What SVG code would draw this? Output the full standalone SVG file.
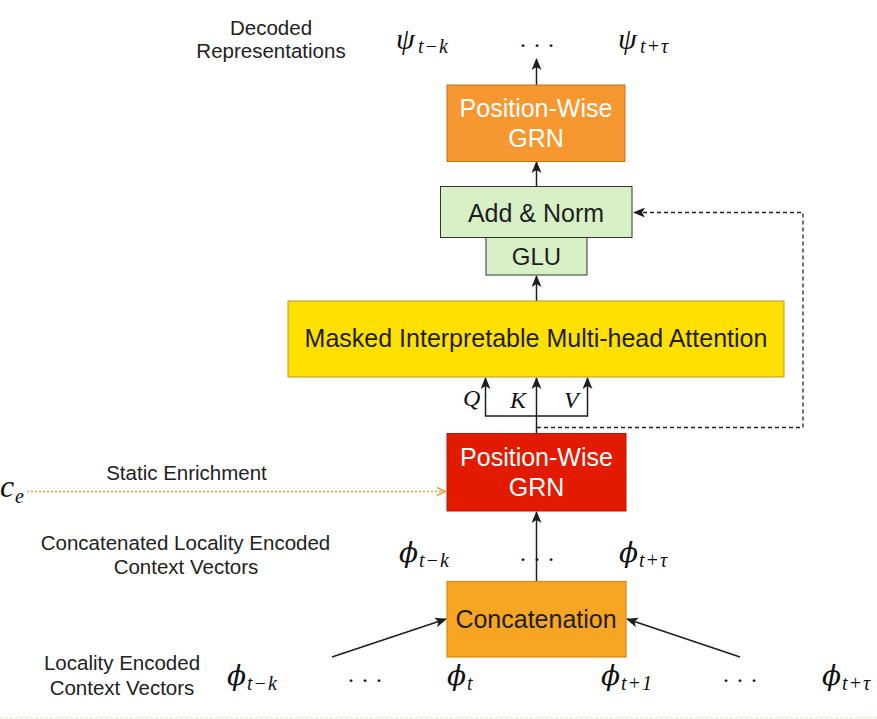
<svg xmlns="http://www.w3.org/2000/svg" width="877" height="719" viewBox="0 0 877 719">
<defs>
<style>
.lbl{font-family:"Liberation Sans",Arial,sans-serif;font-size:20.5px;fill:#222;text-anchor:middle}
.box{font-family:"Liberation Sans",Arial,sans-serif;font-size:25px;text-anchor:middle}
.wt{fill:#ffffff}
.dk{fill:#1e1e1e}
.m{font-family:"Liberation Serif","DejaVu Serif",serif;font-style:italic;fill:#111;font-size:30px}
.p{font-family:"DejaVu Serif","Liberation Serif",serif;font-style:italic;fill:#111;font-size:28px}
.s{font-family:"Liberation Serif","DejaVu Serif",serif;font-style:italic;fill:#111;font-size:20px}
.dots{font-family:"Liberation Serif","DejaVu Serif",serif;fill:#111;font-size:24px;text-anchor:middle}
.ar{fill:none;stroke:#1e1e1e;stroke-width:1.5}
</style>
<marker id="ah" viewBox="0 0 12 10" refX="11" refY="5" markerWidth="12" markerHeight="10" markerUnits="userSpaceOnUse" orient="auto">
<path d="M0,0 L12,5 L0,10 L3,5 z" fill="#1e1e1e"/>
</marker>
<marker id="ao" viewBox="0 0 10 10" refX="9" refY="5" markerWidth="10" markerHeight="10" markerUnits="userSpaceOnUse" orient="auto">
<path d="M1,1 L9,5 L1,9" fill="none" stroke="#f2a040" stroke-width="1.6"/>
</marker>
</defs>
<rect width="877" height="719" fill="#ffffff"/>
<line x1="0" y1="717.5" x2="877" y2="717.5" stroke="#d6efc6" stroke-width="1" stroke-dasharray="3 2"/>

<g id="connectors">
<line class="ar" x1="536.5" y1="85" x2="536.5" y2="59" marker-end="url(#ah)"/>
<line class="ar" x1="536.5" y1="186" x2="536.5" y2="162" marker-end="url(#ah)"/>
<line class="ar" x1="536.5" y1="301" x2="536.5" y2="276" marker-end="url(#ah)"/>
<line class="ar" x1="536.5" y1="433" x2="536.5" y2="378" marker-end="url(#ah)"/>
<path class="ar" d="M485.5,416 H587.5"/>
<line class="ar" x1="485.5" y1="416.7" x2="485.5" y2="378" marker-end="url(#ah)"/>
<line class="ar" x1="587.5" y1="416.7" x2="587.5" y2="378" marker-end="url(#ah)"/>
<path d="M537,427.5 H803 V212.5 H634" fill="none" stroke="#222" stroke-width="1.3" stroke-dasharray="4 3" marker-end="url(#ah)"/>
<line class="ar" x1="536.5" y1="581" x2="536.5" y2="512" marker-end="url(#ah)"/>
<line class="ar" x1="332" y1="657" x2="446" y2="619" marker-end="url(#ah)"/>
<line class="ar" x1="740" y1="657" x2="627" y2="619" marker-end="url(#ah)"/>
<line x1="27" y1="491.5" x2="445" y2="491.5" stroke="#f2a040" stroke-width="1.5" stroke-dasharray="2 2" marker-end="url(#ao)"/>
</g>

<g id="grn-out">
<rect x="447" y="85" width="178" height="76.5" fill="#f7972f" stroke="#c8701a" stroke-width="1"/>
<text class="box wt" x="536" y="117">Position-Wise</text>
<text class="box wt" x="536" y="147">GRN</text>
</g>

<g id="add-norm">
<rect x="440.5" y="186.5" width="191.5" height="51" fill="#d8f0c6" stroke="#333" stroke-width="1"/>
<text class="box dk" x="536" y="222">Add &amp; Norm</text>
</g>

<g id="glu">
<rect x="486" y="237.5" width="101" height="37.5" fill="#d8f0c6" stroke="#333" stroke-width="1"/>
<text class="box dk" x="536.5" y="265" style="font-size:24px">GLU</text>
</g>

<g id="attention">
<rect x="288" y="301" width="496" height="76" fill="#ffe000" stroke="#b89a20" stroke-width="1"/>
<text class="box dk" x="536" y="347" style="font-size:25px">Masked Interpretable Multi-head Attention</text>
</g>

<g id="qkv-labels">
<text class="m" x="463" y="406" style="font-size:24px">Q</text>
<text class="m" x="510" y="408" style="font-size:24px">K</text>
<text class="m" x="564" y="408" style="font-size:24px">V</text>
</g>

<g id="grn-enrich">
<rect x="447" y="433.5" width="179" height="77.5" fill="#e21b00" stroke="#c01500" stroke-width="1"/>
<text class="box wt" x="536.5" y="466">Position-Wise</text>
<text class="box wt" x="536.5" y="496">GRN</text>
</g>

<g id="concat">
<rect x="447" y="581.5" width="179" height="75.5" fill="#f7a522" stroke="#d98a10" stroke-width="1.2"/>
<text class="box dk" x="536" y="628">Concatenation</text>
</g>

<g id="labels">
<text class="lbl" x="271" y="35">Decoded</text>
<text class="lbl" x="271" y="58">Representations</text>
<text class="lbl" x="186.5" y="480">Static Enrichment</text>
<text class="lbl" x="185.5" y="550">Concatenated Locality Encoded</text>
<text class="lbl" x="186" y="574">Context Vectors</text>
<text class="lbl" x="122" y="670">Locality Encoded</text>
<text class="lbl" x="122" y="695">Context Vectors</text>
</g>

<g id="math">
<text class="m" x="0" y="497" style="font-size:32px">c</text>
<text class="s" x="15" y="503">e</text>

<text class="m" x="396" y="49">ψ</text>
<text class="s" x="418" y="53">t<tspan dx="1">−</tspan><tspan dx="1">k</tspan></text>
<text class="dots" x="537" y="53">· · ·</text>
<text class="m" x="618" y="49">ψ</text>
<text class="s" x="640" y="53">t<tspan dx="1">+</tspan><tspan dx="1">τ</tspan></text>

<text class="p" x="399" y="562">ϕ</text>
<text class="s" x="419" y="567">t<tspan dx="1">−</tspan><tspan dx="1">k</tspan></text>
<text class="dots" x="537" y="567">· · ·</text>
<text class="p" x="619" y="562">ϕ</text>
<text class="s" x="639" y="567">t<tspan dx="1">+</tspan><tspan dx="1">τ</tspan></text>

<text class="p" x="227" y="685">ϕ</text>
<text class="s" x="247" y="690">t<tspan dx="1">−</tspan><tspan dx="1">k</tspan></text>
<text class="dots" x="365" y="688">· · ·</text>
<text class="p" x="447" y="685">ϕ</text>
<text class="s" x="467" y="690">t</text>
<text class="p" x="601" y="685">ϕ</text>
<text class="s" x="621" y="690">t<tspan dx="1">+</tspan><tspan dx="1">1</tspan></text>
<text class="dots" x="740" y="688">· · ·</text>
<text class="p" x="822" y="685">ϕ</text>
<text class="s" x="842" y="690">t<tspan dx="1">+</tspan><tspan dx="1">τ</tspan></text>
</g>
</svg>
